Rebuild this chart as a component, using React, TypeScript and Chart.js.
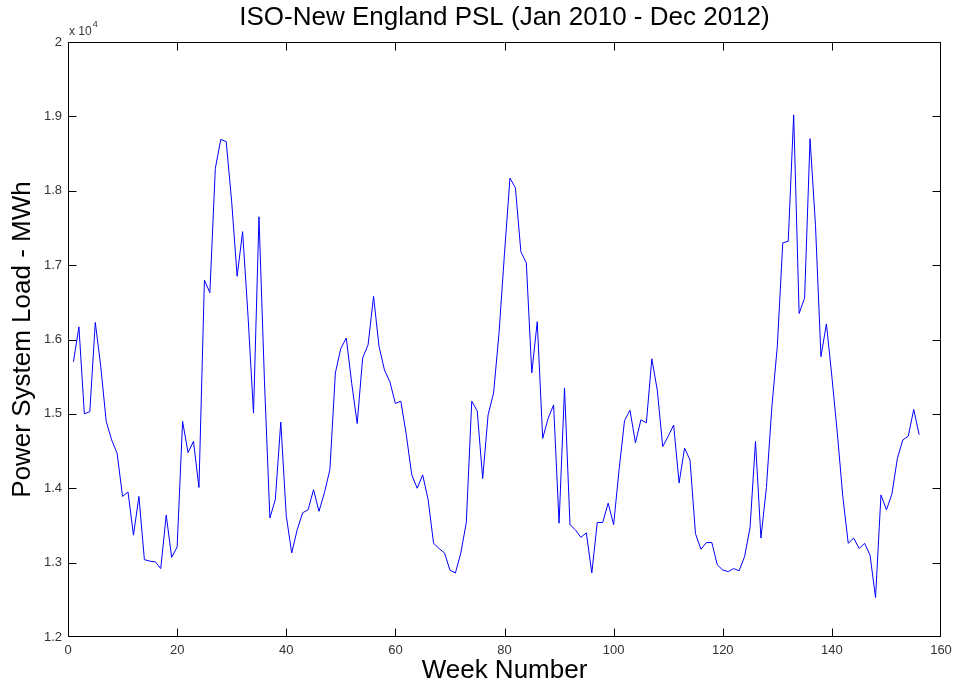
import React, { useEffect, useRef } from "react";
import { Chart, registerables } from "chart.js";

Chart.register(...registerables);

// Weekly Power System Load (MWh), weeks 1..156
const loadValues = [
  15700, 16170, 15000, 15030, 16230, 15640, 14900, 14650, 14470, 13890,
  13950, 13370, 13890, 13040, 13020, 13010, 12920, 13640, 13070, 13210,
  14900, 14480, 14630, 14010, 16800, 16630, 18300, 18690, 18660, 17850,
  16850, 17450, 16310, 15010, 17650, 15450, 13600, 13850, 14890, 13630,
  13130, 13440, 13670, 13710, 13980, 13690, 13940, 14250, 15550, 15880,
  16020, 15410, 14870, 15750, 15930, 16580, 15910, 15590, 15430, 15140,
  15170, 14720, 14180, 14000, 14180, 13850, 13260, 13190, 13130, 12900,
  12860, 13130, 13540, 15170, 15040, 14130, 14990, 15280, 16090, 17160,
  18170, 18040, 17180, 17030, 15550, 16240, 14670, 14940, 15120, 13530,
  15350, 13510, 13440, 13340, 13400, 12860, 13540, 13540, 13800, 13510,
  14250, 14910, 15050, 14610, 14920, 14880, 15740, 15320, 14560, 14700,
  14850, 14070, 14540, 14380, 13390, 13180, 13270, 13270, 12970, 12900,
  12880, 12920, 12890, 13080, 13470, 14630, 13330, 14010, 15090, 15910,
  17300, 17320, 19020, 16350, 16560, 18700, 17530, 15770, 16210, 15500,
  14740, 13890, 13260, 13330, 13190, 13260, 13100, 12530, 13910, 13710,
  13920, 14400, 14650, 14700, 15060, 14720,
];
const firstWeek = 1;

const xTickValues = [0, 20, 40, 60, 80, 100, 120, 140, 160];
const yTickValues = [12000, 13000, 14000, 15000, 16000, 17000, 18000, 19000, 20000];

const titleText = "ISO-New England PSL (Jan 2010 - Dec 2012)";
const xAxisTitle = "Week Number";
const yAxisTitle = "Power System Load - MWh";
const exponentBase = "x 10";
const exponentPower = "4";

const FONT = "'Liberation Sans', Arial, Helvetica, sans-serif";

const axesBoxPlugin = {
  id: "axesBox",
  afterDraw(chart: any) {
    const { ctx, chartArea: a, scales } = chart;
    const L = Math.round(a.left) + 0.5;
    const R = Math.round(a.right) - 0.5;
    const T = Math.round(a.top) + 0.5;
    const B = Math.round(a.bottom) - 0.5;
    const tl = 8;
    const clamp = (v: number, lo: number, hi: number) => Math.min(hi, Math.max(lo, v));
    ctx.save();
    ctx.strokeStyle = "#000";
    ctx.lineWidth = 1;
    ctx.beginPath();
    ctx.rect(L, T, R - L, B - T);
    ctx.stroke();
    ctx.beginPath();
    for (const v of xTickValues) {
      const px = clamp(Math.round(scales.x.getPixelForValue(v)) + 0.5, L, R);
      ctx.moveTo(px, B);
      ctx.lineTo(px, B - tl);
      ctx.moveTo(px, T);
      ctx.lineTo(px, T + tl);
    }
    for (const v of yTickValues) {
      const py = clamp(Math.round(scales.y.getPixelForValue(v)) + 0.5, T, B);
      ctx.moveTo(L, py);
      ctx.lineTo(L + tl, py);
      ctx.moveTo(R, py);
      ctx.lineTo(R - tl, py);
    }
    ctx.stroke();
    // exponent label
    ctx.fillStyle = "#333";
    ctx.textAlign = "left";
    ctx.textBaseline = "alphabetic";
    ctx.font = `12px ${FONT}`;
    ctx.fillText(exponentBase, a.left + 1, a.top - 7);
    const w = ctx.measureText(exponentBase).width;
    ctx.font = `9px ${FONT}`;
    ctx.fillText(exponentPower, a.left + 2 + w, a.top - 15);
    ctx.restore();
  },
};

export default function App() {
  const canvasRef = useRef<HTMLCanvasElement | null>(null);

  useEffect(() => {
    if (!canvasRef.current) return;
    const points = loadValues.map((v, i) => ({ x: firstWeek + i, y: v }));
    const chart = new Chart(canvasRef.current, {
      type: "line",
      data: {
        datasets: [
          {
            data: points,
            borderColor: "#0000ff",
            borderWidth: 1,
            pointRadius: 0,
            tension: 0,
            fill: false,
          },
        ],
      },
      options: {
        responsive: false,
        animation: false,
        layout: { padding: { left: 0, right: 12, top: 0, bottom: 0 } },
        plugins: {
          legend: { display: false },
          tooltip: { enabled: false },
          title: {
            display: true,
            text: titleText,
            fullSize: false,
            color: "#000",
            font: { family: FONT, size: 26, weight: "normal", lineHeight: 1 },
            padding: { top: 5, bottom: 11 },
          },
        },
        scales: {
          x: {
            type: "linear",
            min: 0,
            max: 160,
            grid: { display: false, drawTicks: false },
            border: { display: false },
            afterBuildTicks: (scale: any) => {
              scale.ticks = xTickValues.map((v) => ({ value: v }));
            },
            afterFit: (scale: any) => {
              scale.height = 51;
              scale.paddingLeft = 0;
              scale.paddingRight = 0;
            },
            ticks: {
              color: "#333",
              padding: 6,
              maxRotation: 0,
              autoSkip: false,
              font: { family: FONT, size: 13 },
              callback: (v: any) => String(v),
            },
            title: {
              display: true,
              text: xAxisTitle,
              color: "#000",
              font: { family: FONT, size: 26, weight: "normal", lineHeight: 1 },
              padding: { top: 0, bottom: 4 },
            },
          },
          y: {
            type: "linear",
            min: 12000,
            max: 20000,
            grid: { display: false, drawTicks: false },
            border: { display: false },
            afterBuildTicks: (scale: any) => {
              scale.ticks = yTickValues.map((v) => ({ value: v }));
            },
            afterFit: (scale: any) => {
              scale.width = 68;
              scale.paddingTop = 0;
              scale.paddingBottom = 0;
            },
            ticks: {
              color: "#333",
              padding: 6,
              autoSkip: false,
              font: { family: FONT, size: 13 },
              callback: (v: any) => String(Number((Number(v) / 10000).toFixed(1))),
            },
            title: {
              display: true,
              text: yAxisTitle,
              color: "#000",
              font: { family: FONT, size: 26, weight: "normal", lineHeight: 1 },
              padding: { top: 10, bottom: 0 },
            },
          },
        },
      },
      plugins: [axesBoxPlugin],
    });
    return () => chart.destroy();
  }, []);

  return (
    <div
      style={{
        position: "fixed",
        left: 0,
        top: 0,
        width: 953,
        height: 688,
        background: "#fff",
      }}
    >
      <canvas ref={canvasRef} width={953} height={688} style={{ display: "block" }} />
    </div>
  );
}
